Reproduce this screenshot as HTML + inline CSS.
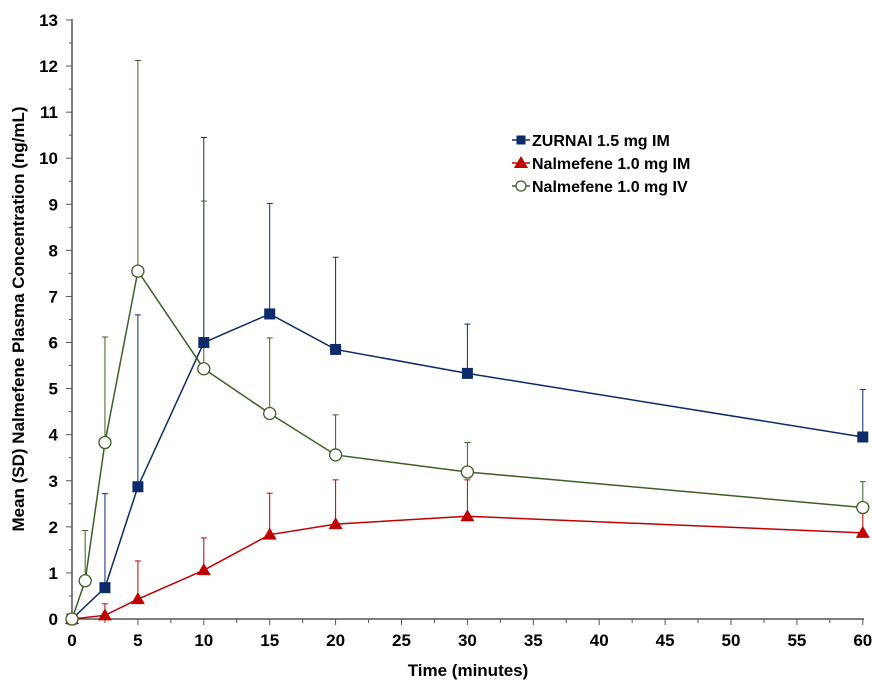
<!DOCTYPE html>
<html><head><meta charset="utf-8"><style>
body{margin:0;background:#fff;width:874px;height:687px;overflow:hidden}
svg{display:block;font-family:"Liberation Sans",Arial,sans-serif}
</style></head><body>
<svg id="s" width="874" height="687" xmlns="http://www.w3.org/2000/svg"></svg>
<script>
const X=t=>72+t*13.18, Y=v=>619-v*46.08;
let h='';
// axes
h+=`<line x1="72" y1="19" x2="72" y2="619" stroke="#555" stroke-width="1.5"/>`;
h+=`<line x1="72" y1="619" x2="864" y2="619" stroke="#555" stroke-width="1.5"/>`;
for(let v=0;v<=13;v++){h+=`<line x1="66" x2="72" y1="${Y(v)}" y2="${Y(v)}" stroke="#555"/>`;
 h+=`<text x="58" y="${Y(v)+6}" font-size="17" font-weight="bold" text-anchor="end">${v}</text>`;
 if(v<13)h+=`<line x1="69" x2="72" y1="${Y(v+0.5)}" y2="${Y(v+0.5)}" stroke="#555"/>`;}
for(let t=0;t<=60;t+=2.5){const maj=t%5==0;h+=`<line x1="${X(t)}" x2="${X(t)}" y1="619" y2="${maj?625:623}" stroke="#555"/>`;
 if(maj)h+=`<text x="${X(t)}" y="646" font-size="17" font-weight="bold" text-anchor="middle">${t}</text>`;}
h+=`<text x="468" y="676" font-size="17" font-weight="bold" text-anchor="middle">Time (minutes)</text>`;
h+=`<text transform="translate(24,319) rotate(-90)" font-size="17" font-weight="bold" text-anchor="middle">Mean (SD) Nalmefene Plasma Concentration (ng/mL)</text>`;
const S=[
 {c:'#0d2a6b',m:'sq',d:[[0,0],[2.5,.68,2.72],[5,2.87,6.6],[10,6.0,10.45],[15,6.62,9.02],[20,5.85,7.85],[30,5.33,6.4],[60,3.95,4.98]]},
 {c:'#c00000',m:'tri',d:[[0,0],[2.5,.08,.33],[5,.43,1.26],[10,1.06,1.76],[15,1.83,2.73],[20,2.06,3.02],[30,2.23,3.02],[60,1.87,2.35]]},
 {c:'#3d5f25',m:'ci',d:[[0,0],[1,.83,1.92],[2.5,3.83,6.12],[5,7.55,12.12],[10,5.43,9.07],[15,4.46,6.1],[20,3.56,4.43],[30,3.19,3.83],[60,2.42,2.98]]}];
function mk(m,c,x,y){if(m=='sq')return `<rect x="${x-5.5}" y="${y-5.5}" width="11" height="11" fill="${c}"/>`;
 if(m=='tri')return `<polygon points="${x},${y-7} ${x-7},${y+5} ${x+7},${y+5}" fill="${c}"/>`;
 return `<circle cx="${x}" cy="${y}" r="6" fill="#fff" stroke="${c}" stroke-width="1.3"/>`;}
for(const s of S){for(const p of s.d)if(p[2]){const x=X(p[0]);h+=`<line x1="${x}" x2="${x}" y1="${Y(p[1])}" y2="${Y(p[2])}" stroke="${s.c}" stroke-width="1"/><line x1="${x-3}" x2="${x+3}" y1="${Y(p[2])}" y2="${Y(p[2])}" stroke="${s.c}"/>`;}
 h+=`<polyline fill="none" stroke="${s.c}" stroke-width="1.5" points="${s.d.map(p=>X(p[0])+','+Y(p[1])).join(' ')}"/>`;}
for(const s of S)for(const p of s.d)h+=mk(s.m,s.c,X(p[0]),Y(p[1]));
const L=[['ZURNAI 1.5 mg IM',0],['Nalmefene 1.0 mg IM',1],['Nalmefene 1.0 mg IV',2]];
L.forEach(([t,i],k)=>{const y=140+k*23;const s=S[i];h+=`<line x1="512" x2="530" y1="${y}" y2="${y}" stroke="${s.c}" stroke-width="1.5"/>`+mk(s.m,s.c,521,y).replace(/r="6"/,'r="5"').replace('width="11" height="11"','width="9" height="9"').replace(`x="${521-5.5}" y="${y-5.5}"`,`x="516.5" y="${y-4.5}"`);
 h+=`<text x="532" y="${y+6}" font-size="16" font-weight="bold">${t}</text>`;});
document.getElementById('s').innerHTML=h;
</script>
</body></html>
